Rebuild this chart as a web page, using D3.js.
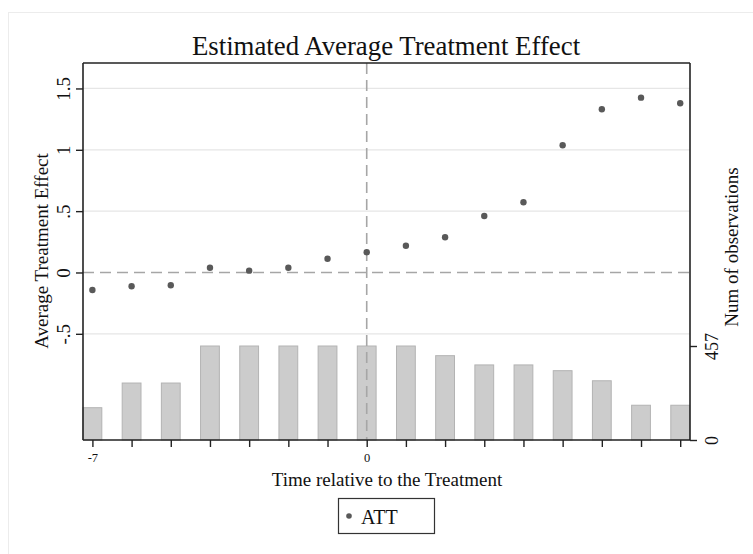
<!DOCTYPE html>
<html>
<head>
<meta charset="utf-8">
<script src="https://cdn.jsdelivr.net/npm/d3@7"></script>
<style>
  html, body { margin: 0; padding: 0; background: #fff; }
  svg { display: block; font-family: "Liberation Serif", "Times New Roman", serif; }
</style>
</head>
<body>
<svg id="chart" width="753" height="554"></svg>
<script>
// ---- data ----
const periods = [-7, -6, -5, -4, -3, -2, -1, 0, 1, 2, 3, 4, 5, 6, 7, 8];
const att = [-0.143, -0.112, -0.104, 0.039, 0.015, 0.039, 0.112, 0.165, 0.218, 0.287, 0.46, 0.572, 1.037, 1.33, 1.425, 1.379];
const nobs = [157, 277, 277, 457, 457, 457, 457, 457, 457, 410, 365, 365, 337, 288, 169, 169];
const leftTicks = [-0.5, 0, 0.5, 1, 1.5];
const leftTickLabels = ["-.5", "0", ".5", "1", "1.5"];
const rightTicks = [0, 457];
const xLabelTicks = [-7, 0];

const svg = d3.select("#chart");
const L = 83, R = 690, T = 63, B = 440;

// outer faint frame
svg.append("rect").attr("x", 8.5).attr("y", 12.5).attr("width", 760).attr("height", 560)
  .attr("fill", "none").attr("stroke", "#ececec");

const x = d3.scaleLinear().domain([-7.24, 8.25]).range([L, R]);
const y = d3.scaleLinear().domain([-1.3655, 1.7075]).range([B, T]);
const y2 = d3.scaleLinear().domain([0, 457]).range([B, 346]);

// gridlines
svg.append("g").selectAll("line").data(leftTicks.filter(d => d !== 0)).join("line")
  .attr("x1", L).attr("x2", R).attr("y1", d => y(d)).attr("y2", d => y(d))
  .attr("stroke", "#e6e6e6").attr("stroke-width", 1.2);

// bars
const bw = (x(1) - x(0)) * 0.48;
svg.append("g").selectAll("rect").data(periods).join("rect")
  .attr("x", (d, i) => Math.max(L, x(d) - bw / 2))
  .attr("width", (d, i) => (x(d) + bw / 2) - Math.max(L, x(d) - bw / 2))
  .attr("y", (d, i) => y2(nobs[i]))
  .attr("height", (d, i) => B - y2(nobs[i]))
  .attr("fill", "#cccccc").attr("stroke", "#b3b3b3").attr("stroke-width", 1);

// reference lines
svg.append("line").attr("x1", L).attr("x2", R).attr("y1", y(0)).attr("y2", y(0))
  .attr("stroke", "#a6a6a6").attr("stroke-width", 1.6).attr("stroke-dasharray", "11,6");
svg.append("line").attr("x1", x(0)).attr("x2", x(0)).attr("y1", T).attr("y2", B)
  .attr("stroke", "#a6a6a6").attr("stroke-width", 1.6).attr("stroke-dasharray", "11,6");

// points
svg.append("g").selectAll("circle").data(periods).join("circle")
  .attr("cx", d => x(d)).attr("cy", (d, i) => y(att[i])).attr("r", 3.2)
  .attr("fill", "#595959");

// axes
const axisStyle = g => {
  g.select(".domain").attr("stroke", "#222").attr("stroke-width", 1.6);
  g.selectAll(".tick line").attr("stroke", "#222").attr("stroke-width", 1.4);
};

const leftAxis = svg.append("g").attr("transform", `translate(${L},0)`)
  .call(d3.axisLeft(y).tickValues(leftTicks).tickSize(7).tickSizeOuter(0)
    .tickFormat((d, i) => leftTickLabels[i]));
axisStyle(leftAxis);
leftAxis.select(".domain").attr("d", `M0,${T}V${B}`);
leftAxis.selectAll(".tick text")
  .attr("transform", "rotate(-90)").attr("x", 0).attr("y", -13).attr("dy", 0)
  .attr("text-anchor", "middle").attr("font-size", 19).attr("fill", "#111")
  .attr("font-family", "Liberation Serif");

const rightAxis = svg.append("g").attr("transform", `translate(${R},0)`)
  .call(d3.axisRight(y2).tickValues(rightTicks).tickSize(7).tickSizeOuter(0));
axisStyle(rightAxis);
rightAxis.select(".domain").attr("d", `M0,${T}V${B}`);
rightAxis.selectAll(".tick text")
  .attr("transform", "rotate(-90)").attr("x", 0).attr("y", 28).attr("dy", 0)
  .attr("text-anchor", "middle").attr("font-size", 18).attr("fill", "#111")
  .attr("font-family", "Liberation Serif");

const bottomAxis = svg.append("g").attr("transform", `translate(0,${B})`)
  .call(d3.axisBottom(x).tickValues(periods).tickSize(7).tickSizeOuter(0)
    .tickFormat(d => xLabelTicks.includes(d) ? String(d) : ""));
axisStyle(bottomAxis);
bottomAxis.select(".domain").attr("d", `M${L},0H${R}`);
bottomAxis.selectAll(".tick text")
  .attr("y", 13).attr("dy", "0.71em").attr("font-size", 12.5).attr("fill", "#111")
  .attr("font-family", "Liberation Serif");

// top frame line
svg.append("line").attr("x1", L).attr("x2", R).attr("y1", T).attr("y2", T)
  .attr("stroke", "#222").attr("stroke-width", 1.6);

// titles
svg.append("text").attr("x", 386).attr("y", 55).attr("text-anchor", "middle")
  .attr("font-size", 26.8).attr("fill", "#111").text("Estimated Average Treatment Effect");
svg.append("text").attr("x", 387).attr("y", 486).attr("text-anchor", "middle")
  .attr("font-size", 19).attr("fill", "#111").text("Time relative to the Treatment");
svg.append("text").attr("transform", "translate(48,251) rotate(-90)").attr("text-anchor", "middle")
  .attr("font-size", 19).attr("fill", "#111").text("Average Treatment Effect");
svg.append("text").attr("transform", "translate(738,247) rotate(-90)").attr("text-anchor", "middle")
  .attr("font-size", 19).attr("fill", "#111").text("Num of observations");

// legend
const lg = svg.append("g");
lg.append("rect").attr("x", 338.5).attr("y", 498.5).attr("width", 96).attr("height", 35)
  .attr("fill", "#fff").attr("stroke", "#333").attr("stroke-width", 1.2);
lg.append("circle").attr("cx", 349).attr("cy", 516).attr("r", 2.8).attr("fill", "#595959");
lg.append("text").attr("x", 361).attr("y", 524).attr("font-size", 20).attr("fill", "#111").text("ATT");
</script>
</body>
</html>
